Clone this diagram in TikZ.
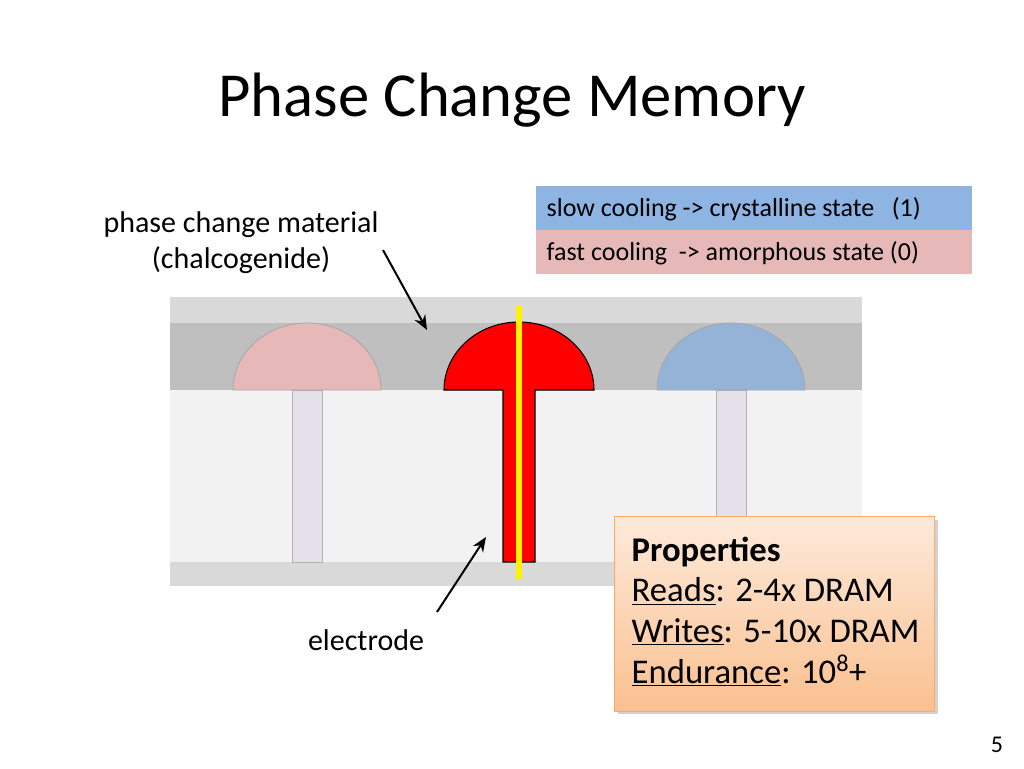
\documentclass[tikz,border=0pt]{standalone}
\usepackage{fontspec}
\setmainfont{Carlito}
\usetikzlibrary{shadows,arrows.meta}
\definecolor{lgray}{HTML}{D9D9D9}
\definecolor{dgray}{HTML}{BFBFBF}
\definecolor{vlgray}{HTML}{F2F2F2}
\definecolor{pinkc}{HTML}{E6B9B8}
\definecolor{bluec}{HTML}{95B3D7}
\definecolor{stemc}{HTML}{E4E1EA}
\definecolor{legblue}{HTML}{8EB4E3}
\definecolor{orgtop}{HTML}{FDEADA}
\definecolor{orgbot}{HTML}{FAC090}
\definecolor{orgline}{HTML}{F79646}
\tikzset{
  dome/.style={draw=gray!70, line width=0.6pt},
  stem/.style={draw=gray!60, fill=stemc, line width=0.6pt},
  lbl/.style={font=\fontsize{22.5}{27}\selectfont, align=center},
  leg/.style={font=\fontsize{19.5}{23}\selectfont, anchor=west},
  arr/.style={-{Stealth[length=11pt,width=9pt]}, line width=1.5pt}
}
\begin{document}
\begin{tikzpicture}[x=0.75pt,y=-0.75pt]
\useasboundingbox (0,0) rectangle (1024,768);
\fill[white] (0,0) rectangle (1024,768);
\node (title) at (512,100) {\fontsize{47}{56}\selectfont Phase Change Memory};
% layers
\fill[lgray] (170,297) rectangle (862,323);
\fill[dgray] (170,323) rectangle (862,390);
\fill[vlgray] (170,390) rectangle (862,562);
\fill[lgray] (170,562) rectangle (862,586);
% stems
\draw[stem] (292,390) rectangle (322,562);
\draw[stem] (716,390) rectangle (746,562);
% domes
\draw[dome, fill=pinkc] (233,390) arc[start angle=180,end angle=360,x radius=74,y radius=67] -- cycle;
\draw[dome, fill=bluec] (657,390) arc[start angle=180,end angle=360,x radius=74,y radius=67] -- cycle;
\draw[fill=red, draw=black, line width=0.8pt] (444,390) arc[start angle=180,end angle=360,x radius=75,y radius=68] -- (535,390) -- (535,562) -- (503,562) -- (503,390) -- cycle;
\draw[yellow, line width=4pt] (519,305) -- (519,579);
% legend
\fill[legblue] (536,186) rectangle (972,230);
\fill[pinkc] (536,230) rectangle (972,274);
\node[leg] (l1) at (542,209) {slow cooling -> crystalline state \ \ (1)};
\node[leg] (l2) at (542,253) {fast cooling \ -> amorphous state (0)};
% labels
\node[lbl] (pcm) at (241,243) {phase change material\\(chalcogenide)};
\node[lbl] (el) at (366,640) {electrode};
\coordinate (pa) at (427,330);
\coordinate (ea) at (486,537);
\draw[arr] (383,250) -- (pa);
\draw[arr] (437,612) -- (ea);
% properties
\node[draw=orgline!80, line width=0.6pt, top color=orgtop, bottom color=orgbot, drop shadow={opacity=0.35}, minimum width=240pt, minimum height=146pt, anchor=north west] (prop) at (614,516) {};
\node[anchor=north west, align=left, font=\fontsize{26}{30.5}\selectfont] (pt) at (627,532) {\textbf{Properties}\\\underline{Reads}: 2-4x DRAM\\\underline{Writes}: 5-10x DRAM\\\underline{Endurance}: 10\textsuperscript{8}+};
\node[font=\fontsize{18}{20}\selectfont] (pg) at (997,745) {5};
\end{tikzpicture}
\end{document}
